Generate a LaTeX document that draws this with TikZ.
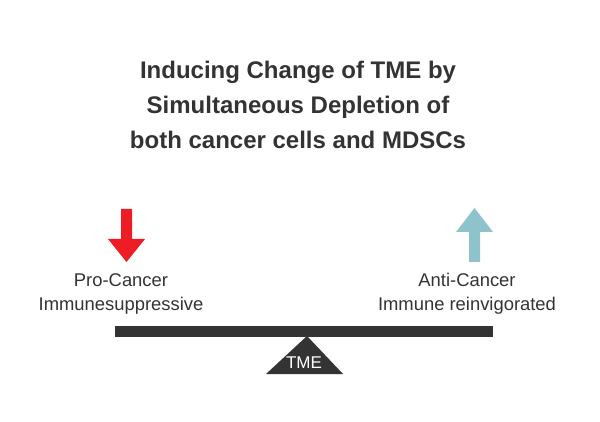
\documentclass[tikz,border=0pt]{standalone}
\usepackage{fontspec}
\setmainfont{Liberation Sans}
\usepackage{tikz}
\definecolor{darkgray}{HTML}{333333}
\definecolor{arrowred}{HTML}{EE1C25}
\definecolor{arrowblue}{HTML}{8FC3CC}

\begin{document}
\begin{tikzpicture}[x=1pt, y=-1pt,
        title/.style={font=\fontsize{24}{35}\selectfont\bfseries, text=darkgray, align=center},
        label/.style={font=\fontsize{18.4}{24}\selectfont, text=darkgray, align=center}]
        \useasboundingbox (0,0) rectangle (600,422);
        \node[title] (heading) at (298,104.5) {Inducing Change of TME by\\Simultaneous Depletion of\\both cancer cells and MDSCs};

        % arrows
        \fill[arrowred] (121,209) -- (132,209) -- (132,239) -- (145,239) -- (126.5,262) -- (108,239) -- (121,239) -- cycle;
        \fill[arrowblue] (469,262) -- (480,262) -- (480,232) -- (493,232) -- (474.5,208) -- (456,232) -- (469,232) -- cycle;

        \node[label] (pro) at (121,294) {Pro-Cancer\\Immunesuppressive};
        \node[label] (anti) at (467,294) {Anti-Cancer\\Immune reinvigorated};

        % seesaw
        \fill[darkgray] (115,326) rectangle (493,337);
        \fill[darkgray] (266,374) -- (307,336) -- (343,374) -- cycle;
        \node[font=\fontsize{17}{20}\selectfont, text=white] (tme) at (304,363) {TME};
    \end{tikzpicture}
\end{document}
